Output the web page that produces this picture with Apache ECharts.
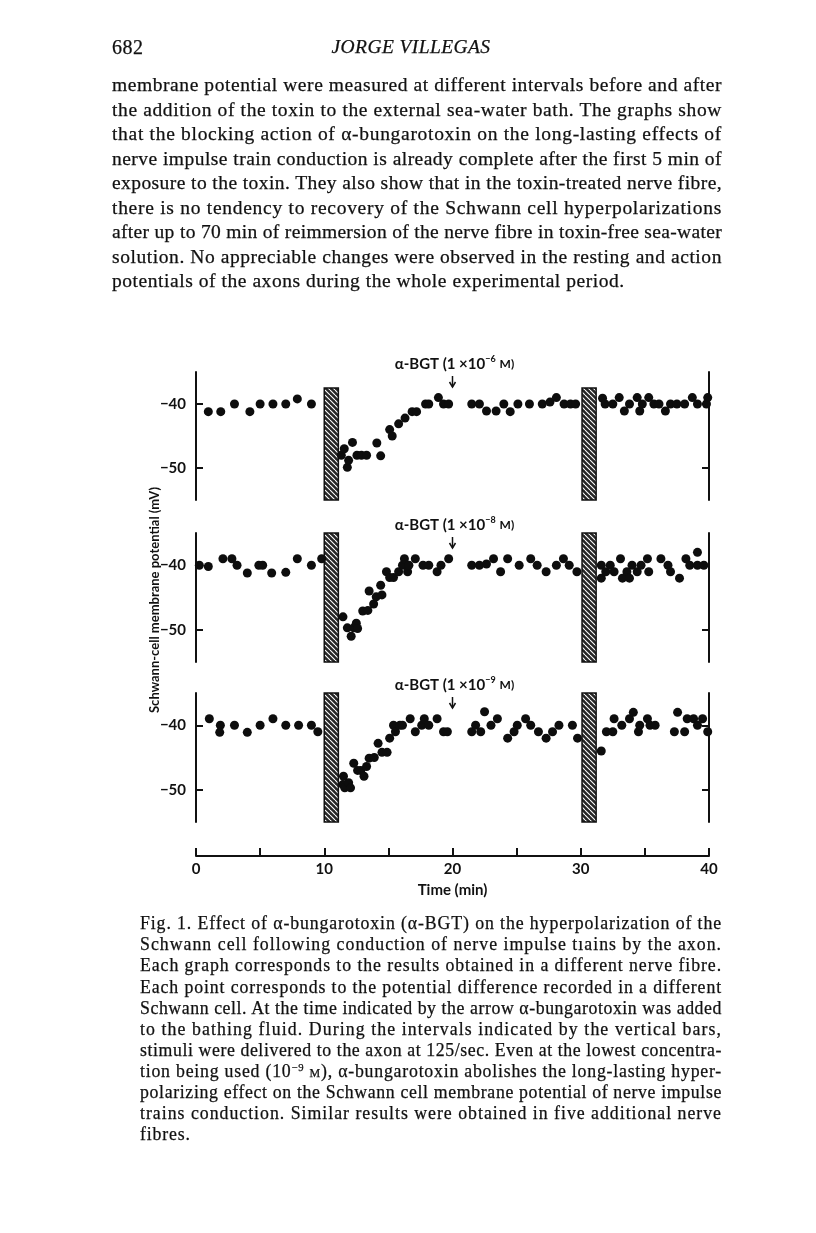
<!DOCTYPE html>
<html><head><meta charset="utf-8">
<script src="https://cdn.jsdelivr.net/npm/echarts@6/dist/echarts.min.js"></script>
<style>
html,body{margin:0;padding:0;background:#fff;}
#page{position:relative;width:816px;height:1233px;overflow:hidden;background:#fff;}
#chart{position:absolute;left:0;top:0;width:816px;height:1233px;}
.ln{position:absolute;white-space:nowrap;font-family:"Liberation Serif","DejaVu Serif",serif;color:#111;-webkit-text-stroke:0.25px #111;}
sup{font-size:0.6em;vertical-align:0.55em;line-height:0;}
.sc{font-variant:small-caps;}
</style></head><body>
<div id="page"><div id="chart"></div><div id="text"></div></div>
<script>
// ---------------- DATA ----------------
const timeTicks = [0, 10, 20, 30, 40];
const yTicks = [-40, -50];
const stimBars = [[10, 11.1], [30.1, 31.2]];          // stimulation intervals (min)
const toxinTime = 20;                                   // arrow: toxin added (min)
const concentrations = ['6', '8', '9'];                 // 1 x 10^-n M
const barTops = [-37.5, -35, -35];

const fibre1 = [
  [0.96,-41.2],[1.93,-41.2],[3.0,-40],[4.2,-41.2],[5.0,-40],[6.0,-40],[7.0,-40],[7.9,-39.2],[9.0,-40],
  [11.33,-48],[11.56,-47],[11.8,-49.9],[11.9,-48.8],[12.2,-46],[12.55,-48],[12.9,-48],[13.3,-48],[14.1,-46.1],[14.4,-48.1],
  [15.1,-44],[15.3,-45],[15.8,-43.1],[16.3,-42.2],[16.85,-41.2],[17.2,-41.2],[17.9,-40],[18.15,-40],[18.9,-39],[19.3,-40],[19.7,-40],
  [21.5,-40],[22.1,-40],[22.65,-41.1],[23.4,-41.1],[24.0,-40],[24.5,-41.2],[25.1,-40],[26.0,-40],[27.0,-40],[27.6,-39.7],[28.1,-39],[28.7,-40],[29.2,-40],[29.6,-40],
  [31.7,-39.1],[31.9,-40],[32.5,-40],[33.0,-39],[33.4,-41.1],[33.8,-40],[34.4,-39],[34.6,-41.1],[34.8,-40],[35.3,-39],[35.7,-40],[36.1,-40],[36.6,-41.1],[37.0,-40],[37.5,-40],[38.1,-40],[38.7,-39],[39.1,-40],[39.8,-40],[39.9,-39]
];
const fibre2 = [
  [0.26,-40],[0.96,-40.2],[2.1,-39],[2.8,-39],[3.2,-40],[4.0,-41.2],[4.9,-40],[5.2,-40],[5.9,-41.2],[7.0,-41.1],[7.9,-39],[9.0,-40],[9.8,-39],
  [11.46,-48],[11.8,-49.7],[12.1,-51],[12.3,-49.7],[12.5,-49],[12.6,-49.8],[13.0,-47.1],[13.4,-47],[13.5,-44],[13.85,-46],[14.05,-44.9],[14.4,-43.1],[14.5,-44.6],
  [14.85,-41],[15.1,-41.9],[15.4,-41.9],[15.8,-41],[16.1,-40],[16.25,-39],[16.5,-41],[16.6,-40],[17.1,-39],[17.7,-40],[18.15,-40],[18.8,-41],[19.1,-40],[19.7,-39],
  [21.5,-40],[22.1,-40],[22.65,-39.8],[23.2,-39],[23.75,-41],[24.3,-39],[25.2,-40],[26.1,-39],[26.6,-40],[27.3,-41],[28.1,-40],[28.65,-39],[29.1,-40],[29.7,-41],
  [31.6,-40],[31.6,-42],[31.95,-41],[32.3,-40],[32.6,-41],[33.1,-39],[33.25,-42],[33.6,-41],[33.8,-42],[34.0,-40],[34.4,-41],[34.7,-40],[35.2,-39],[35.3,-41],
  [36.25,-39],[36.8,-40],[37.0,-41],[37.7,-42],[38.2,-39],[38.5,-40],[39.1,-38],[39.1,-40],[39.6,-40]
];
const fibre3 = [
  [1.04,-39],[1.9,-40],[1.85,-41.1],[3.0,-40],[4.0,-41.1],[5.0,-40],[6.0,-39],[7.0,-40],[8.0,-40],[9.0,-40],[9.5,-41],
  [11.45,-49.2],[11.5,-47.9],[11.6,-49.7],[11.9,-48.9],[12.05,-49.7],[12.3,-45.9],[12.6,-47],[12.85,-47],[13.1,-47.9],[13.3,-46.4],[13.5,-45.1],[13.9,-45],
  [14.2,-42.8],[14.5,-44.2],[14.9,-44.2],[15.1,-42],[15.4,-40],[15.55,-41],[15.9,-40],[16.1,-40],[16.7,-39],[17.1,-41],[17.6,-40],[17.8,-39],[18.15,-40],[18.8,-39],[19.3,-41],[19.6,-41],
  [21.5,-41],[21.8,-40],[22.2,-41],[22.5,-37.9],[23.0,-40],[23.5,-39],[24.3,-42],[24.8,-41],[25.05,-40],[25.7,-39],[26.1,-40],[26.7,-41],[27.3,-42],[27.8,-41],[28.3,-40],[29.35,-40],[29.75,-42],
  [31.6,-44],[32.0,-41],[32.5,-41],[32.6,-39],[33.2,-40],[33.8,-39],[34.1,-38],[34.5,-41],[34.6,-40],[35.2,-39],[35.4,-40],[35.8,-40],
  [37.3,-41],[37.55,-38],[38.1,-41],[38.3,-39],[38.8,-39],[39.1,-40],[39.5,-39],[39.9,-41]
];
const fibres = [fibre1, fibre2, fibre3];

const headerNumber = '682';
const headerTitle = 'JORGE VILLEGAS';
const bodyLines = [
  'membrane potential were measured at different intervals before and after',
  'the addition of the toxin to the external sea-water bath. The graphs show',
  'that the blocking action of α-bungarotoxin on the long-lasting effects of',
  'nerve impulse train conduction is already complete after the first 5 min of',
  'exposure to the toxin. They also show that in the toxin-treated nerve fibre,',
  'there is no tendency to recovery of the Schwann cell hyperpolarizations',
  'after up to 70 min of reimmersion of the nerve fibre in toxin-free sea-water',
  'solution. No appreciable changes were observed in the resting and action',
  'potentials of the axons during the whole experimental period.'
];
const captionLines = [
  'Fig. 1. Effect of α-bungarotoxin (α-BGT) on the hyperpolarization of the',
  'Schwann cell following conduction of nerve impulse tıains by the axon.',
  'Each graph corresponds to the results obtained in a different nerve fibre.',
  'Each point corresponds to the potential difference recorded in a different',
  'Schwann cell. At the time indicated by the arrow α-bungarotoxin was added',
  'to the bathing fluid. During the intervals indicated by the vertical bars,',
  'stimuli were delivered to the axon at 125/sec. Even at the lowest concentra-',
  'tion being used (10<sup>−9</sup> <span class="sc">m</span>), α-bungarotoxin abolishes the long-lasting hyper-',
  'polarizing effect on the Schwann cell membrane potential of nerve impulse',
  'trains conduction. Similar results were obtained in five additional nerve',
  'fibres.'
];
const yAxisTitle = 'Schwann-cell membrane potential (mV)';
const xAxisTitle = 'Time (min)';

// ---------------- TEXT (HTML) ----------------
function avg(a) { return a.length ? a.reduce((s, v) => s + v, 0) / a.length : 0; }
const textRoot = document.getElementById('text');
function addLine(html, left, yc, fs, width, justify, extra, ls) {
  const d = document.createElement('div');
  d.className = 'ln';
  d.innerHTML = html;
  d.style.left = left + 'px';
  d.style.fontSize = fs + 'px';
  d.style.lineHeight = fs + 'px';
  d.style.top = (yc - fs * 0.55) + 'px';
  if (extra) Object.assign(d.style, extra);
  textRoot.appendChild(d);
  if (justify) {
    const w = d.getBoundingClientRect().width;
    const nChars = d.textContent.length;
    d.style.letterSpacing = ((width - w) / nChars) + 'px';
  } else if (ls !== undefined) {
    d.style.letterSpacing = ls + 'px';
  }
  return d;
}
addLine(headerNumber, 112, 48, 20, 0, false, null, 0.5);
const ttl = addLine(headerTitle, 0, 48, 19.5, 0, false, {fontStyle: 'italic', letterSpacing: '0.4px'});
ttl.style.left = (411 - ttl.getBoundingClientRect().width / 2) + 'px';
const bodyLs = [];
bodyLines.forEach((t, i) => {
  const last = i === bodyLines.length - 1;
  const d = addLine(t, 112, 86 + i * 24.5, 19.5, 610, !last, null, last ? avg(bodyLs) : undefined);
  if (!last) bodyLs.push(parseFloat(d.style.letterSpacing));
});
const capLs = [];
captionLines.forEach((t, i) => {
  const last = i === captionLines.length - 1;
  const d = addLine(t, 140, 925 + i * 21.1, 17.8, 582, !last, null, last ? avg(capLs) : undefined);
  if (!last) capLs.push(parseFloat(d.style.letterSpacing));
});

// ---------------- CHART ----------------
const pc = document.createElement('canvas');
pc.width = 5; pc.height = 5;
const g = pc.getContext('2d');
g.fillStyle = '#262626'; g.fillRect(0, 0, 5, 5);
g.strokeStyle = '#ffffff'; g.lineWidth = 1.1;
[-5, 0, 5].forEach(k => { g.beginPath(); g.moveTo(k, 0); g.lineTo(k + 5, 5); g.stroke(); });
const hatch = { image: pc, repeat: 'repeat' };

const gridTops = [372, 533, 693];
const gridH = [128, 129, 129];
const FONT = 'Lato';
const grid = gridTops.map((t, i) => ({ left: 196, width: 513, top: t, height: gridH[i] }));

const xAxis = grid.map((_, i) => ({
  type: 'value', gridIndex: i, min: 0, max: 40, interval: 5,
  show: i === 2, offset: 34,
  axisLine: { show: true, lineStyle: { color: '#111', width: 2 } },
  axisTick: { show: true, inside: true, length: 8, lineStyle: { color: '#111', width: 2 } },
  axisLabel: { color: '#111', fontFamily: FONT, fontWeight: 'bold', fontSize: 15, margin: 6,
    formatter: v => timeTicks.includes(v) ? String(v) : '' },
  splitLine: { show: false },
  name: i === 2 ? xAxisTitle : '', nameLocation: 'middle', nameGap: 27,
  nameTextStyle: { color: '#111', fontFamily: FONT, fontWeight: 'bold', fontSize: 15 }
}));

const yAxis = [];
grid.forEach((_, i) => {
  ['left', 'right'].forEach(pos => {
    yAxis.push({
      type: 'value', gridIndex: i, position: pos, min: -55, max: -35,
      axisLine: { show: true, onZero: false, lineStyle: { color: '#111', width: 2 } },
      axisTick: { show: true, inside: true, length: 7, customValues: yTicks, lineStyle: { color: '#111', width: 2 } },
      axisLabel: { show: pos === 'left', customValues: yTicks, color: '#111', fontFamily: FONT, fontWeight: 'bold', fontSize: 15, margin: 10,
        formatter: v => '\u2212' + Math.abs(v) },
      splitLine: { show: false }
    });
  });
});

const series = fibres.map((pts, i) => ({
  type: 'scatter', xAxisIndex: i, yAxisIndex: i * 2, data: pts,
  symbol: 'circle', symbolSize: 9, itemStyle: { color: '#0d0d0d', opacity: 1 }, z: 3,
  markArea: {
    silent: true,
    itemStyle: { color: hatch, borderColor: '#111', borderWidth: 1.5, opacity: 1 },
    data: stimBars.map(b => [{ xAxis: b[0], yAxis: barTops[i] }, { xAxis: b[1], yAxis: -55 }])
  }
}));

const chart = echarts.init(document.getElementById('chart'), null, { renderer: 'canvas' });
chart.setOption({ animation: false, grid, xAxis, yAxis, series });

const graphics = [{
  type: 'text', x: 155, y: 600, rotation: Math.PI / 2, origin: [0, 0],
  style: { text: yAxisTitle, fill: '#111', font: 'bold 13px Lato', align: 'center', verticalAlign: 'middle' }
}];
concentrations.forEach((c, i) => {
  const p = chart.convertToPixel({ xAxisIndex: i }, toxinTime);
  const top = gridTops[i];
  graphics.push({
    type: 'text', x: p + 2, y: top - 8,
    style: {
      text: '{b|α-BGT (1 ×10}{s|−' + c + '}{m| M)}',
      align: 'center', verticalAlign: 'middle',
      rich: {
        b: { fontFamily: FONT, fontWeight: 'bold', fontSize: 15, fill: '#111' },
        s: { fontFamily: FONT, fontWeight: 'bold', fontSize: 9, fill: '#111', padding: [0, 1, 9, 0] },
        m: { fontFamily: FONT, fontWeight: 'bold', fontSize: 12, fill: '#111' }
      }
    }
  });
  graphics.push({ type: 'line', shape: { x1: p, y1: top + 4, x2: p, y2: top + 15 }, style: { stroke: '#111', lineWidth: 1.5 } });
  graphics.push({ type: 'polyline', shape: { points: [[p - 3, top + 10], [p, top + 15], [p + 3, top + 10]] }, style: { stroke: '#111', lineWidth: 1.5, fill: null } });
});
chart.setOption({ graphic: graphics });
</script>
</body></html>
